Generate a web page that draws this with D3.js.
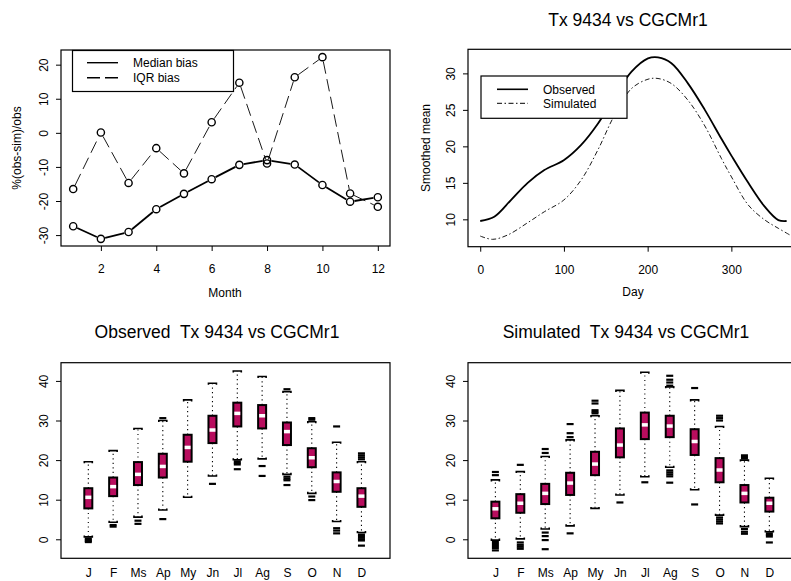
<!DOCTYPE html>
<html><head><meta charset="utf-8">
<script src="https://cdn.jsdelivr.net/npm/d3@7/dist/d3.min.js"></script>
<style>
body{margin:0;background:#fff;}
svg{display:block;font-family:"Liberation Sans",Arial,Helvetica,sans-serif;}
</style></head><body>
<svg id="chart" width="791" height="581"></svg>
<script>
// ---------- data ----------
const months = [1,2,3,4,5,6,7,8,9,10,11,12];
const medianBias = [-27.4,-31.1,-29.1,-22.4,-17.9,-13.6,-9.4,-8.0,-9.3,-15.3,-20.2,-18.9];
const iqrBias = [-16.5,0.1,-14.7,-4.5,-11.9,3.1,14.7,-9.0,16.3,22.2,-17.8,-21.7];
const monthTicks = [2,4,6,8,10,12];
const biasTicks = [-30,-20,-10,0,10,20];

const obsDays = [0,16.8,36.7,56.7,76.6,99.8,120.6,140.5,160.5,180.5,200.4,212.4,228.4,248.3,268.3,288.3,300.2,320.2,340.1,356.1,366];
const obsMean = [9.77,10.36,12.64,15.0,16.75,18.1,20.2,23.1,26.8,30.2,32.05,32.2,31.4,28.6,25.0,21.0,18.7,15.0,11.7,9.9,9.77];
const simDays = [0,14.8,32.7,56.7,76.6,99.8,120.6,140.5,160.5,180.5,200.4,212.4,228.4,248.3,268.3,288.3,300.2,320.2,340.1,356.1,370];
const simMean = [7.71,7.26,7.85,9.54,11.04,12.64,15.4,19.5,24.3,27.9,29.2,29.3,28.6,26.3,22.8,18.3,15.8,11.96,9.9,8.77,7.85];
const dayTicks = [0,100,200,300];
const meanTicks = [10,15,20,25,30];

const monthLabels = ["J","F","Ms","Ap","My","Jn","Jl","Ag","S","O","N","D"];
const tempTicks = [0,10,20,30,40];

const obsLo  = [0.6,4.3,5.6,7.4,10.6,16.0,20.1,20.3,16.4,11.6,4.5,1.7];
const obsQ1  = [7.8,10.9,13.7,15.6,19.6,24.3,28.5,28.0,23.8,18.2,12.0,8.2];
const obsMed = [10.6,13.3,16.4,18.4,23.2,27.6,31.8,31.2,27.2,20.6,14.6,10.9];
const obsQ3  = [12.9,15.6,19.5,21.6,26.4,31.2,34.5,33.9,29.5,23.0,16.9,12.9];
const obsHi  = [19.6,22.4,28.0,30.0,35.2,39.4,42.5,41.1,37.3,29.7,24.5,19.6];
const obsOut = [[0.2,-0.1,-0.4,-0.7],[3.6,3.2],[4.7,3.9],[30.6,5.1],[],[14.0],[19.7,19.3,18.9,17.7],[18.5,16.0],[37.9,15.8,15.3,14.9,13.7],[30.2,30.6,10.8,9.9],[28.5,2.8,2.2,1.5],[20.2,20.7,21.2,21.7,1.2,0.8,0.4,0.0,-0.3,-1.6]];

const simLo  = [-0.2,0.1,2.6,3.4,7.8,11.2,15.8,18.2,12.5,6.1,3.2,1.9];
const simQ1  = [5.3,6.7,8.9,11.2,16.2,20.7,25.3,25.8,21.3,14.4,9.3,7.0];
const simMed = [7.7,9.1,11.6,14.2,19.0,23.8,28.9,28.6,24.7,17.5,11.6,9.1];
const simQ3  = [9.5,11.4,14.0,16.8,22.1,28.0,32.0,31.2,27.8,20.5,13.7,10.5];
const simHi  = [15.0,17.1,20.9,25.1,31.2,37.6,42.2,38.5,35.2,28.5,20.0,15.4];
const simOut = [[16.2,17.0,-0.7,-1.2,-1.7,-2.2,-2.8],[18.8,-0.8,-1.4,-1.9,-2.4],[22.8,21.8,1.7,0.8,-0.2,-2.5],[29.1,26.8,25.8,1.5],[35.0,34.3,32.6,32.2,31.8],[9.3],[14.4],[41.3,40.3,39.6,38.8,17.4,16.9,16.4,15.9,14.3],[38.2,8.8],[31.2,30.6,30.0,5.5,5.0,4.5,4.0],[21.2,20.8,20.4,2.6,1.9,1.4],[1.5,1.1,0.7,-0.8]];

// ---------- helpers ----------
const svg = d3.select("#chart");
const FS = 12;
const boxFill = "#b80d5e";

function frame(g, x0, x1, y0, y1){
  g.append("rect").attr("x",x0).attr("y",y0).attr("width",x1-x0).attr("height",y1-y0)
    .attr("fill","none").attr("stroke","#000").attr("stroke-width",1.2);
}
function leftAxis(g, y, x0, ticks){
  const ax = g.append("g").attr("transform",`translate(${x0},0)`)
    .call(d3.axisLeft(y).tickValues(ticks).tickSize(5).tickSizeOuter(0));
  ax.select(".domain").remove();
  ax.selectAll("line").attr("stroke","#000").attr("stroke-width",1);
  ax.selectAll("text").attr("font-size",FS).attr("font-family","Liberation Sans, Arial, sans-serif")
    .attr("fill","#000").attr("text-anchor","middle").attr("transform","rotate(-90)")
    .attr("x",0).attr("y",-13).attr("dy",0).text(d=>String(d));
}
function bottomAxis(g, x, y0, ticks, size){
  const ax = g.append("g").attr("transform",`translate(0,${y0})`)
    .call(d3.axisBottom(x).tickValues(ticks).tickSize(size).tickSizeOuter(0).tickFormat(d=>String(d)));
  ax.select(".domain").remove();
  ax.selectAll("line").attr("stroke","#000").attr("stroke-width",1);
  ax.selectAll("text").attr("font-size",FS).attr("font-family","Liberation Sans, Arial, sans-serif")
    .attr("fill","#000").attr("y",27).attr("dy",0);
  return ax;
}
function text(g, x, y, s, opts={}){
  const t = g.append("text").attr("x",x).attr("y",y).text(s)
    .attr("font-size",opts.size||FS).attr("fill","#000")
    .attr("text-anchor",opts.anchor||"middle").style("white-space","pre");
  if(opts.rotate) t.attr("transform",`rotate(-90,${x},${y})`);
  return t;
}

// ---------- panel 1: bias ----------
{
  const g = svg.append("g");
  const x = d3.scaleLinear().domain([0.56,12.44]).range([61,390]);
  const y = d3.scaleLinear().domain([-33.2,24.3]).range([246,50]);
  const R = 3.6;
  // type="b": segments stop short of the point symbols
  function segs(arr, width, dash){
    const pts = arr.map((d,i)=>[x(months[i]),y(d)]);
    for(let i=0;i<pts.length-1;i++){
      const [ax,ay]=pts[i],[bx,by]=pts[i+1];
      const L=Math.hypot(bx-ax,by-ay), gap=R+0.8;
      if(L<=2*gap) continue;
      const ux=(bx-ax)/L, uy=(by-ay)/L;
      const l = g.append("line").attr("x1",ax+ux*gap).attr("y1",ay+uy*gap)
        .attr("x2",bx-ux*gap).attr("y2",by-uy*gap)
        .attr("stroke","#000").attr("stroke-width",width);
      if(dash) l.attr("stroke-dasharray",dash);
    }
  }
  segs(iqrBias,0.9,"12.5,5.5");
  segs(medianBias,1.8,null);
  [iqrBias, medianBias].forEach(arr=>{
    g.selectAll(null).data(arr).enter().append("circle")
      .attr("cx",(d,i)=>x(months[i])).attr("cy",d=>y(d)).attr("r",R)
      .attr("fill","none").attr("stroke","#000").attr("stroke-width",1.4);
  });
  frame(g,61,390,50,246);
  leftAxis(g,y,61,biasTicks);
  bottomAxis(g,x,246,monthTicks,5);
  text(g,225,297,"Month");
  text(g,21,148,"%(obs-sim)/obs",{rotate:true});
  // legend
  g.append("rect").attr("x",72.5).attr("y",50.5).attr("width",161).attr("height",41)
    .attr("fill","#fff").attr("stroke","#000").attr("stroke-width",1.2);
  g.append("line").attr("x1",87).attr("x2",118).attr("y1",62.7).attr("y2",62.7)
    .attr("stroke","#000").attr("stroke-width",1.4);
  g.append("line").attr("x1",87).attr("x2",118).attr("y1",77.7).attr("y2",77.7)
    .attr("stroke","#000").attr("stroke-width",1.4).attr("stroke-dasharray","13,5");
  text(g,133,67,"Median bias",{anchor:"start"});
  text(g,133,82,"IQR bias",{anchor:"start"});
}

// ---------- panel 2: smoothed mean ----------
{
  const g = svg.append("g");
  const x = d3.scaleLinear().domain([-14.6,379.6]).range([468,798]);
  const y = d3.scaleLinear().domain([6.25,33.3]).range([246.7,49.3]);
  const line = d3.line().curve(d3.curveCatmullRom.alpha(0.5));
  g.append("path").attr("d",line(simDays.map((d,i)=>[x(d),y(simMean[i])])))
    .attr("fill","none").attr("stroke","#000").attr("stroke-width",0.9)
    .attr("stroke-dasharray","5,2.5,1.5,2.5");
  g.append("path").attr("d",line(obsDays.map((d,i)=>[x(d),y(obsMean[i])])))
    .attr("fill","none").attr("stroke","#000").attr("stroke-width",1.8);
  frame(g,468,798,49.3,246.7);
  leftAxis(g,y,468,meanTicks);
  bottomAxis(g,x,246.7,dayTicks,5);
  text(g,633,296,"Day");
  text(g,430,148,"Smoothed mean",{rotate:true});
  text(g,628,26,"Tx 9434 vs CGCMr1",{size:17.5});
  g.append("rect").attr("x",481).attr("y",76).attr("width",146).attr("height",42.3)
    .attr("fill","#fff").attr("stroke","#000").attr("stroke-width",1.2);
  g.append("line").attr("x1",497).attr("x2",528).attr("y1",89.3).attr("y2",89.3)
    .attr("stroke","#000").attr("stroke-width",1.6);
  g.append("line").attr("x1",497).attr("x2",528).attr("y1",103.3).attr("y2",103.3)
    .attr("stroke","#000").attr("stroke-width",1).attr("stroke-dasharray","5,2.5,1.5,2.5");
  text(g,543,94,"Observed",{anchor:"start"});
  text(g,543,108,"Simulated",{anchor:"start"});
}

// ---------- panels 3/4: boxplots ----------
function boxPanel(x0, x1, lo, q1, med, q3, hi, out, title, titleX){
  const g = svg.append("g");
  const x = d3.scaleLinear().domain([-0.1,13.15]).range([x0,x1]);
  const y = d3.scaleLinear().domain([-4.8,44.6]).range([558.3,362.7]);
  const band = d3.scalePoint().domain(monthLabels).range([x(1),x(12)]);
  const w = 8;
  monthLabels.forEach((m,i)=>{
    const cx = band(m);
    const bg = g.append("g");
    bg.append("line").attr("x1",cx).attr("x2",cx).attr("y1",y(q3[i])).attr("y2",y(hi[i]))
      .attr("stroke","#000").attr("stroke-width",1.1).attr("stroke-dasharray","1.2,3.3");
    bg.append("line").attr("x1",cx).attr("x2",cx).attr("y1",y(q1[i])).attr("y2",y(lo[i]))
      .attr("stroke","#000").attr("stroke-width",1.1).attr("stroke-dasharray","1.2,3.3");
    [[hi[i],1],[lo[i],-1]].forEach(([v,s])=>{
      const yy = y(v);
      bg.append("path").attr("d",`M${cx-4},${yy+s*1.5}V${yy}H${cx+4}V${yy+s*1.5}`)
        .attr("fill","none").attr("stroke","#000").attr("stroke-width",1.6);
    });
    out[i].forEach(v=>{
      bg.append("line").attr("x1",cx-3.5).attr("x2",cx+3.5).attr("y1",y(v)).attr("y2",y(v))
        .attr("stroke","#000").attr("stroke-width",2.2);
    });
    bg.append("rect").attr("x",cx-w/2).attr("y",y(q3[i])).attr("width",w)
      .attr("height",y(q1[i])-y(q3[i])).attr("fill",boxFill).attr("stroke","#000").attr("stroke-width",2);
    bg.append("line").attr("x1",cx-3).attr("x2",cx+3).attr("y1",y(med[i])).attr("y2",y(med[i]))
      .attr("stroke","#fff").attr("stroke-width",3.5);
  });
  frame(g,x0,x1,362.7,558.3);
  leftAxis(g,y,x0,tempTicks);
  const ax = g.append("g").attr("transform","translate(0,558.3)")
    .call(d3.axisBottom(band).tickSize(0));
  ax.select(".domain").remove();
  ax.selectAll("text").attr("font-size",FS).attr("font-family","Liberation Sans, Arial, sans-serif")
    .attr("fill","#000").attr("y",19).attr("dy",0);
  text(g,titleX,338,title,{size:17.5});
}
boxPanel(61,390,obsLo,obsQ1,obsMed,obsQ3,obsHi,obsOut,"Observed  Tx 9434 vs CGCMr1",217);
boxPanel(468,798,simLo,simQ1,simMed,simQ3,simHi,simOut,"Simulated  Tx 9434 vs CGCMr1",626);
</script>
</body></html>
